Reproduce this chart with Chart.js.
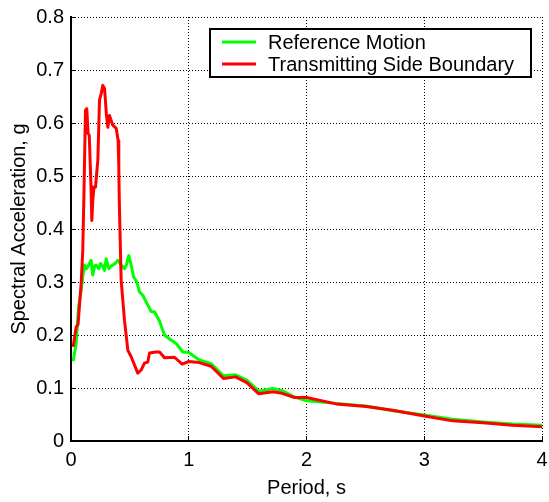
<!DOCTYPE html>
<html>
<head>
<meta charset="utf-8">
<script src="https://cdn.jsdelivr.net/npm/chart.js@4/dist/chart.umd.min.js"></script>
<style>
  html, body { margin: 0; padding: 0; background: #fff; }
  #wrap { width: 549px; height: 502px; }
</style>
</head>
<body>
<div id="wrap"><canvas id="sa-chart" width="549" height="502"></canvas></div>
<script>
// spectral acceleration (g) against period (s)
const refPeriod = [0.02, 0.044, 0.064, 0.087, 0.10, 0.115, 0.13, 0.143, 0.157, 0.171, 0.185, 0.20, 0.214, 0.236, 0.25, 0.265, 0.285, 0.299, 0.321, 0.34, 0.355, 0.375, 0.398, 0.426, 0.454, 0.47, 0.491, 0.511, 0.531, 0.559, 0.582, 0.61, 0.644, 0.681, 0.709, 0.752, 0.794, 0.851, 0.893, 0.95, 1.0, 1.09, 1.19, 1.295, 1.397, 1.493, 1.595, 1.714, 1.793, 1.898, 2.0, 2.252, 2.507, 2.733, 3.0, 3.24, 3.497, 3.75, 4.0];
const refSa = [0.153, 0.184, 0.253, 0.285, 0.31, 0.332, 0.325, 0.329, 0.335, 0.341, 0.313, 0.33, 0.332, 0.325, 0.335, 0.332, 0.322, 0.344, 0.325, 0.33, 0.332, 0.335, 0.341, 0.332, 0.325, 0.332, 0.35, 0.332, 0.31, 0.30, 0.281, 0.275, 0.26, 0.244, 0.244, 0.226, 0.20, 0.19, 0.184, 0.168, 0.167, 0.153, 0.146, 0.123, 0.125, 0.115, 0.094, 0.099, 0.095, 0.083, 0.076, 0.071, 0.066, 0.057, 0.049, 0.041, 0.036, 0.032, 0.0296];

const tsbPeriod = [0.02, 0.044, 0.06, 0.087, 0.10, 0.11, 0.123, 0.134, 0.145, 0.155, 0.17, 0.177, 0.185, 0.195, 0.208, 0.228, 0.242, 0.256, 0.27, 0.285, 0.30, 0.313, 0.327, 0.34, 0.355, 0.384, 0.40, 0.406, 0.41, 0.426, 0.454, 0.483, 0.511, 0.567, 0.596, 0.624, 0.652, 0.667, 0.723, 0.752, 0.794, 0.879, 0.944, 1.0, 1.09, 1.19, 1.295, 1.397, 1.493, 1.595, 1.714, 1.793, 1.898, 2.0, 2.252, 2.507, 2.733, 3.0, 3.24, 3.497, 3.75, 4.0];
const tsbSa = [0.18, 0.215, 0.22, 0.30, 0.36, 0.467, 0.624, 0.627, 0.58, 0.577, 0.48, 0.416, 0.454, 0.479, 0.479, 0.53, 0.643, 0.655, 0.671, 0.665, 0.618, 0.592, 0.614, 0.605, 0.596, 0.59, 0.567, 0.517, 0.454, 0.303, 0.228, 0.171, 0.159, 0.128, 0.134, 0.147, 0.149, 0.166, 0.168, 0.168, 0.157, 0.158, 0.145, 0.15, 0.148, 0.141, 0.118, 0.121, 0.11, 0.089, 0.093, 0.09, 0.082, 0.082, 0.07, 0.065, 0.058, 0.047, 0.038, 0.0345, 0.0296, 0.027];

const xTicks = [0, 1, 2, 3, 4];
const yTicks = [0, 0.1, 0.2, 0.3, 0.4, 0.5, 0.6, 0.7, 0.8];

const FONT = "'Liberation Sans', Arial, Helvetica, sans-serif";

function pts(xs, ys) {
    return xs.map((x, i) => ({ x: x, y: ys[i] }));
}

// matlab-style boxed legend in the upper right
const boxLegend = {
    id: 'boxLegend',
    afterDraw(chart) {
        const ctx = chart.ctx;
        const x0 = 210, y0 = 29, w = 321, h = 48;
        ctx.save();
        ctx.fillStyle = '#fff';
        ctx.fillRect(x0, y0, w, h);
        ctx.lineWidth = 2;
        ctx.strokeStyle = '#000';
        ctx.strokeRect(x0, y0, w, h);
        ctx.font = '20px ' + FONT;
        ctx.textBaseline = 'middle';
        ctx.fillStyle = '#000';
        chart.data.datasets.forEach((ds, i) => {
            const y = y0 + 13 + i * 22;
            ctx.strokeStyle = ds.borderColor;
            ctx.lineWidth = 3;
            ctx.beginPath();
            ctx.moveTo(x0 + 12, y);
            ctx.lineTo(x0 + 46, y);
            ctx.stroke();
            ctx.fillText(ds.label, x0 + 58, y + 1);
        });
        ctx.restore();
    }
};

new Chart('sa-chart', {
    type: 'line',
    data: {
        datasets: [
            {
                label: 'Reference Motion',
                data: pts(refPeriod, refSa),
                borderColor: 'rgb(0,255,0)',
                borderWidth: 3,
                pointRadius: 0,
                order: 1
            },
            {
                label: 'Transmitting Side Boundary',
                data: pts(tsbPeriod, tsbSa),
                borderColor: 'rgb(255,0,0)',
                borderWidth: 3,
                pointRadius: 0,
                order: 0
            }
        ]
    },
    options: {
        responsive: false,
        animation: false,
        devicePixelRatio: 1,
        layout: { padding: { left: 0, right: 7, top: 17, bottom: 0 } },
        elements: { line: { tension: 0, borderJoinStyle: 'round', borderCapStyle: 'round' } },
        plugins: {
            legend: { display: false },
            tooltip: { enabled: false }
        },
        scales: {
            x: {
                type: 'linear',
                min: 0,
                max: 4,
                afterBuildTicks: s => { s.ticks = xTicks.map(v => ({ value: v })); },
                afterFit: s => { s.height = 61; s.paddingLeft = 0; s.paddingRight = 0; },
                ticks: {
                    color: '#000',
                    padding: 12,
                    maxRotation: 0,
                    font: { family: FONT, size: 20 }
                },
                grid: { color: '#000', lineWidth: 1, tickLength: -5, tickColor: '#000', tickWidth: 1 },
                border: { display: true, color: '#000', width: 2, dash: [1, 2] },
                title: {
                    display: true,
                    text: 'Period, s',
                    color: '#000',
                    padding: { top: 0, bottom: 2 },
                    font: { family: FONT, size: 20 }
                }
            },
            y: {
                type: 'linear',
                min: 0,
                max: 0.8,
                afterBuildTicks: s => { s.ticks = yTicks.map(v => ({ value: v })); },
                afterFit: s => { s.width = 71; s.paddingTop = 0; s.paddingBottom = 0; },
                ticks: {
                    color: '#000',
                    padding: 12,
                    font: { family: FONT, size: 20 },
                    callback: v => String(+v.toFixed(1))
                },
                grid: { color: '#000', lineWidth: 1, tickLength: -5, tickColor: '#000', tickWidth: 1 },
                border: { display: true, color: '#000', width: 2, dash: [1, 2] },
                title: {
                    display: true,
                    text: 'Spectral Acceleration, g',
                    color: '#000',
                    padding: { top: 7, bottom: 0 },
                    font: { family: FONT, size: 20 }
                }
            }
        }
    },
    plugins: [boxLegend]
});
</script>
</body>
</html>
